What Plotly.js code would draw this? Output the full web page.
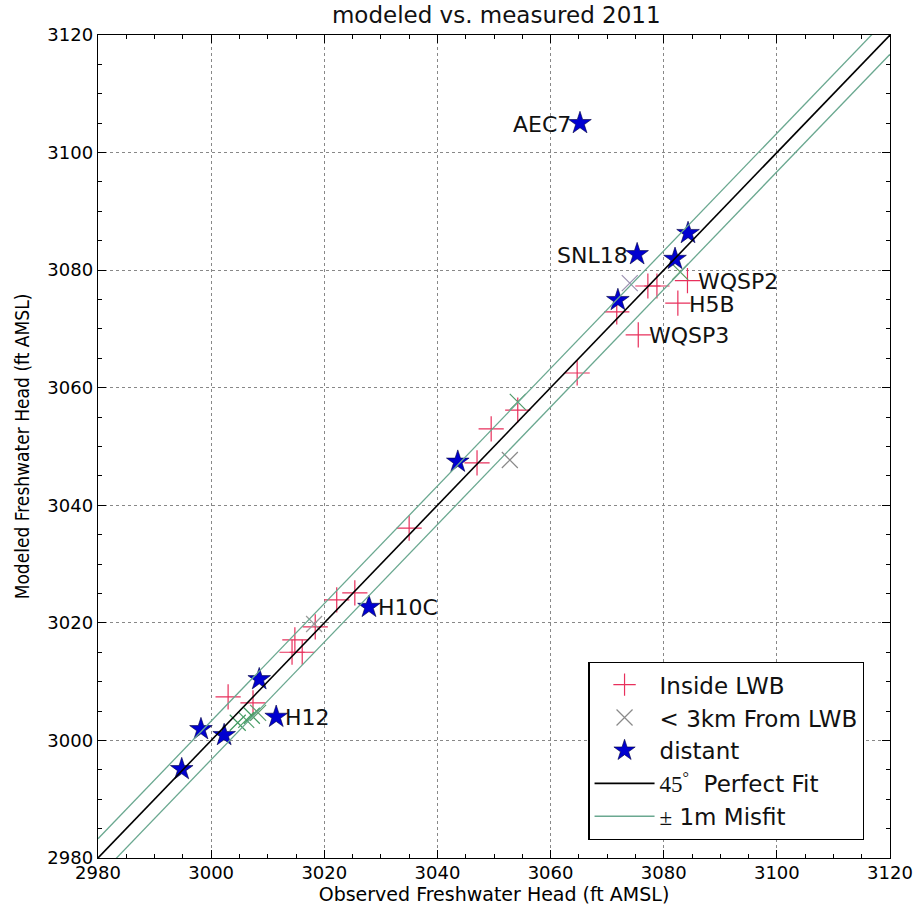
<!DOCTYPE html>
<html><head><meta charset="utf-8">
<script src="https://cdn.plot.ly/plotly-3.0.1.min.js"></script>
<style>html,body{margin:0;padding:0;background:#fff;}#chart{width:919px;height:907px;}</style>
</head><body><div id="chart"></div>
<script>
// Inside LWB (observed, modeled)
const insideX = [3084.2, 3082.5, 3075.5, 3077.2, 3078.8, 3071.7, 3064.7, 3054.2, 3049.5, 3047.0, 3035.0, 3025.4, 3022.2, 3018.4, 3014.8, 3014.3, 3016.1, 3003.0, 3007.4];
const insideY = [3078.2, 3074.4, 3069.0, 3077.3, 3077.3, 3072.9, 3062.5, 3056.2, 3053.0, 3047.2, 3036.1, 3025.1, 3023.9, 3019.3, 3017.1, 3015.0, 3015.0, 3007.4, 3006.4];
const insideLabels = ["WQSP2", "H5B", "WQSP3", "", "", "", "", "", "", "", "", "", "", "", "", "", "", "", ""];

// < 3km from LWB
const nearX = [3052.8, 3054.2, 3074.0, 3082.9, 3018.2, 3004.7, 3006.2, 3007.2, 3008.3];
const nearY = [3047.7, 3057.6, 3077.8, 3079.7, 3019.8, 3003.0, 3003.5, 3004.2, 3004.7];
const nearColors = ["#8a8a8a", "#4f9a6a", "#9a90b0", "#5a9a5a", "#9a9a9a", "#3f9a5f", "#4fa06a", "#3f9a5f", "#5fa070"];

// distant
const distX = [3065.2, 3075.3, 3084.3, 3082.0, 3071.9, 3043.6, 3027.9, 3008.5, 3011.5, 2998.2, 3002.3, 2994.8];
const distY = [3105.0, 3082.7, 3086.3, 3081.9, 3074.9, 3047.4, 3022.7, 3010.4, 3004.0, 3001.9, 3000.9, 2995.1];
const distLabels = ["AEC7", "SNL18", "", "", "", "", "H10C", "", "H12", "", "", ""];
const distLabelSide = ["left", "left", "", "", "", "", "right", "", "right", "", "", ""];

const lineRange = [2980, 3120];
const misfit = 3.28; // 1 m in ft

const traces = [
  {x: insideX, y: insideY, mode: 'markers', type: 'scatter', name: 'Inside LWB',
   marker: {symbol: 'cross-thin', size: 18, color: '#e8305c', line: {color: '#e8305c', width: 1.2}}},
  {x: nearX, y: nearY, mode: 'markers', type: 'scatter', name: '&lt; 3km From LWB',
   marker: {symbol: 'x-thin', size: 16, color: nearColors, line: {color: nearColors, width: 1.2}}},
  {x: distX, y: distY, mode: 'markers', type: 'scatter', name: 'distant',
   marker: {symbol: 'star', size: 17, color: '#0000d0', line: {color: '#000040', width: 0.6}}},
  {x: lineRange, y: lineRange, mode: 'lines', type: 'scatter',
   name: "<span style='font-family:Liberation Serif'>45<sup>°</sup></span>  Perfect Fit",
   line: {color: '#000000', width: 1.6}},
  {x: lineRange, y: lineRange.map(v => v + misfit), mode: 'lines', type: 'scatter',
   name: "<span style='font-family:Liberation Serif'>±</span> 1m Misfit",
   line: {color: '#6aa890', width: 1.3}},
  {x: lineRange, y: lineRange.map(v => v - misfit), mode: 'lines', type: 'scatter',
   showlegend: false, line: {color: '#6aa890', width: 1.3}}
];

const annotations = [];
insideX.forEach((x, i) => {
  if (insideLabels[i]) annotations.push({x: x, y: insideY[i], text: insideLabels[i], showarrow: false,
    xanchor: 'left', yanchor: 'middle', xshift: 9, yshift: -1, font: {size: 22, color: '#111'}});
});
distX.forEach((x, i) => {
  if (distLabels[i]) annotations.push({x: x, y: distY[i], text: distLabels[i], showarrow: false,
    xanchor: distLabelSide[i] === 'left' ? 'right' : 'left', yanchor: 'middle',
    xshift: distLabelSide[i] === 'left' ? -7 : 7, yshift: -1, font: {size: 22, color: '#111'}});
});

const axisCommon = {
  range: [2980, 3120], dtick: 20, tick0: 2980, showgrid: true, gridcolor: '#888', griddash: 'dot', gridwidth: 1,
  zeroline: false, showline: true, linecolor: '#000', linewidth: 1.3, mirror: 'allticks',
  ticks: 'inside', ticklen: 8, tickcolor: '#000', tickwidth: 1,
  minor: {dtick: 5, ticks: 'inside', ticklen: 4, tickcolor: '#000', showgrid: false},
};

const layout = {
  width: 919, height: 907,
  margin: {l: 98, r: 29, t: 35, b: 49},
  paper_bgcolor: '#fff', plot_bgcolor: '#fff',
  font: {family: 'DejaVu Sans', color: '#000'},
  title: {text: 'modeled vs. measured 2011', font: {family: 'DejaVu Sans', size: 23, color: '#111'},
    x: 0.54, xanchor: 'center', y: 0.992, yanchor: 'top'},
  xaxis: Object.assign({}, axisCommon, {
    title: {text: 'Observed Freshwater Head (ft AMSL)', font: {family: 'DejaVu Sans', size: 19}, standoff: 3},
    tickfont: {family: 'DejaVu Sans', size: 18}, ticklabelstandoff: -2}),
  yaxis: Object.assign({}, axisCommon, {
    title: {text: 'Modeled Freshwater Head (ft AMSL)', font: {family: 'DejaVu Sans Condensed, DejaVu Sans', size: 19}, standoff: 12},
    tickfont: {family: 'DejaVu Sans', size: 18}}),
  showlegend: true,
  legend: {x: 0.619, y: 0.022, xanchor: 'left', yanchor: 'bottom', bgcolor: '#fff',
    bordercolor: '#000', borderwidth: 1.3, font: {size: 23, color: '#111'}, tracegroupgap: 0, itemwidth: 60},
  annotations: annotations
};

Plotly.newPlot('chart', traces, layout, {displayModeBar: false, staticPlot: true});
</script></body></html>
